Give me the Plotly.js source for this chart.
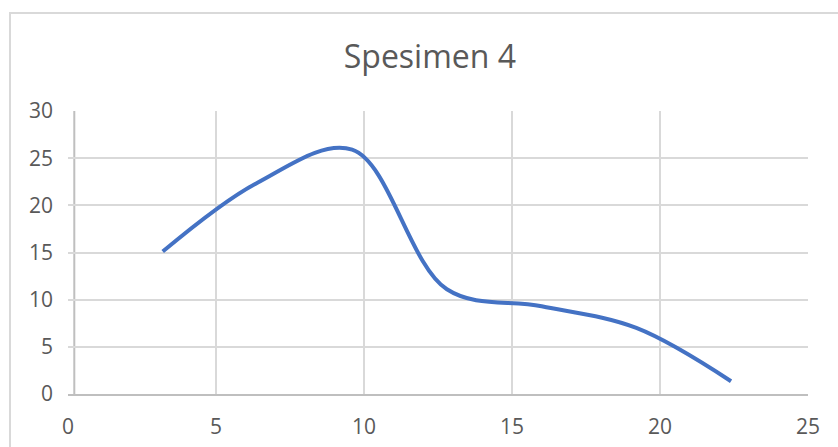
<!DOCTYPE html>
<html>
<head>
<meta charset="utf-8">
<script src="https://cdn.plot.ly/plotly-3.0.1.min.js"></script>
<style>
  html, body { margin: 0; padding: 0; overflow: hidden; background: #ffffff; }
  #frame { position: absolute; left: 9px; top: 12px; width: 1000px; height: 1000px;
           border: 2px solid #d9d9d9; box-sizing: border-box; }
  #chart { position: absolute; left: 0; top: 0; width: 838px; height: 447px; }
</style>
</head>
<body>
<div id="frame"></div>
<div id="chart"></div>
<script>
// Data
const chartTitle = "Spesimen 4";
const xValues = [3.2, 6.4, 9.6, 12.8, 16.0, 19.2, 22.4];
const yValues = [15.1, 22.4, 25.9, 11.1, 9.3, 7.0, 1.35];
const xTicks = [0, 5, 10, 15, 20, 25];
const yTicks = [0, 5, 10, 15, 20, 25, 30];

const trace = {
  x: xValues,
  y: yValues,
  type: "scatter",
  mode: "lines",
  line: { color: "#4472C4", width: 4, shape: "spline", smoothing: 1 },
  hoverinfo: "x+y"
};

const layout = {
  width: 838,
  height: 447,
  paper_bgcolor: "rgba(0,0,0,0)",
  plot_bgcolor: "rgba(0,0,0,0)",
  margin: { l: 68, r: 30, t: 111, b: 53 },
  showlegend: false,
  font: { family: "Open Sans, sans-serif", color: "#595959" },
  title: {
    text: chartTitle,
    font: { family: "Open Sans, sans-serif", size: 32, color: "#595959" },
    x: 0.513, xanchor: "center",
    y: 0.873, yanchor: "middle"
  },
  xaxis: {
    range: [0, 25],
    tickvals: xTicks,
    ticktext: xTicks.map(String),
    showgrid: true,
    gridcolor: "#d9d9d9",
    gridwidth: 2,
    zeroline: false,
    showline: true,
    linecolor: "#bfbfbf",
    linewidth: 2,
    ticks: "",
    ticklabelstandoff: 13,
    tickfont: { family: "Open Sans, sans-serif", size: 21, color: "#595959" },
    fixedrange: true
  },
  yaxis: {
    range: [0, 30],
    tickvals: yTicks,
    ticktext: yTicks.map(String),
    showgrid: true,
    gridcolor: "#d9d9d9",
    gridwidth: 2,
    zeroline: false,
    showline: false,
    ticks: "",
    ticklabelstandoff: 14,
    tickfont: { family: "Open Sans, sans-serif", size: 21, color: "#595959" },
    fixedrange: true
  },
  shapes: [
    { type: "line", xref: "paper", yref: "paper", x0: 0.0085, x1: 0.0085, y0: 0, y1: 1,
      line: { color: "#bfbfbf", width: 2 }, layer: "below" }
  ]
};

Plotly.newPlot("chart", [trace], layout, { displayModeBar: false, staticPlot: true });
</script>
</body>
</html>
